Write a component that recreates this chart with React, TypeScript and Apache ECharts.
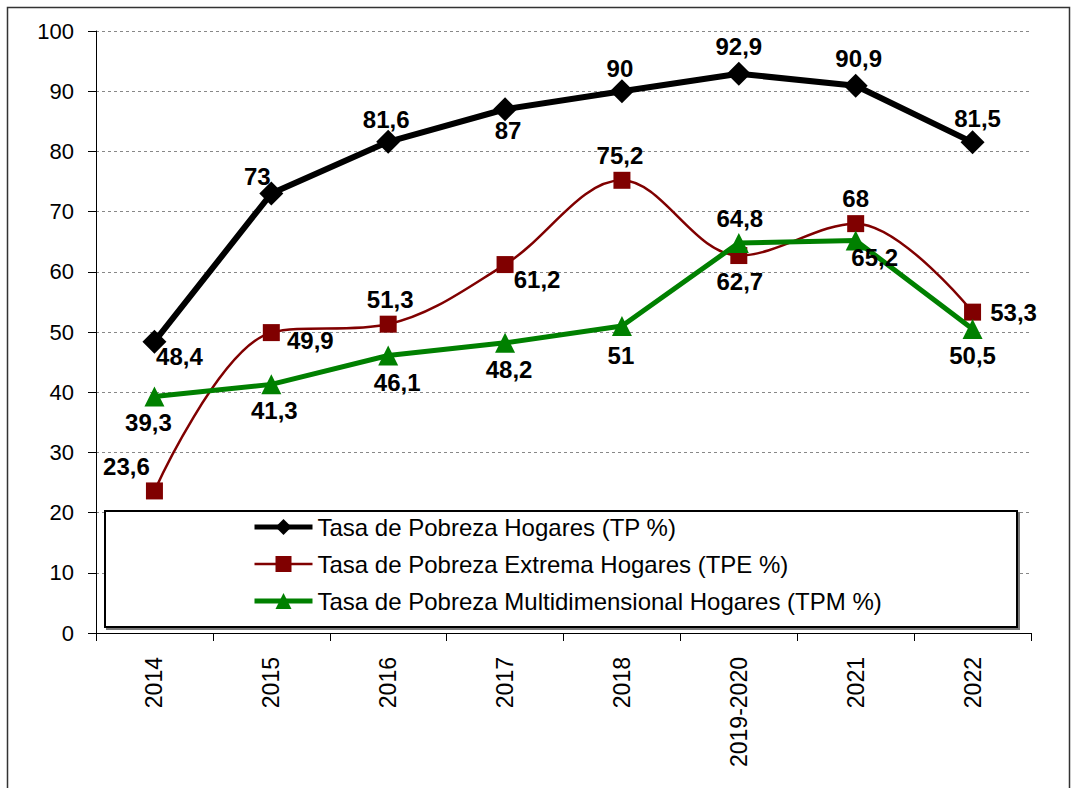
import React, { useEffect, useRef } from "react";
import * as echarts from "echarts";

const categories = ["2014", "2015", "2016", "2017", "2018", "2019-2020", "2021", "2022"];
const tpValues = [48.4, 73, 81.6, 87, 90, 92.9, 90.9, 81.5];
const tpeValues = [23.6, 49.9, 51.3, 61.2, 75.2, 62.7, 68, 53.3];
const tpmValues = [39.3, 41.3, 46.1, 48.2, 51, 64.8, 65.2, 50.5];
const seriesNames = [
  "Tasa de Pobreza Hogares (TP %)",
  "Tasa de Pobreza Extrema Hogares (TPE %)",
  "Tasa de Pobreza Multidimensional Hogares (TPM %)",
];

// label offsets (px) relative to each marker
const tpLabelOffsets = [[25, 15], [-14, -17], [-2, -22], [3, 21], [-2, -23], [0, -27], [3, -27], [5, -24]];
const tpeLabelOffsets = [[-28, -24], [39, 8], [2, -25], [32, 15], [-2, -25], [1, 26], [0, -25], [41, 0]];
const tpmLabelOffsets = [[-6, 26], [3, 26], [9, 27], [4, 27], [-1, 30], [1, -24], [19, 17], [0, 27]];

const FONT = "'Liberation Sans', Arial, Helvetica, sans-serif";

const fmt = (v: number) => String(v).replace(".", ",");

function buildData(values: number[], offsets: number[][]) {
  return values.map((v, i) => ({
    value: v,
    label: { offset: offsets[i] },
  }));
}

const labelBase = {
  show: true,
  position: "inside",
  fontFamily: FONT,
  fontSize: 24,
  fontWeight: "bold",
  color: "#000",
  formatter: (p: any) => fmt(p.value),
};

export default function App() {
  const ref = useRef<HTMLDivElement>(null);
  useEffect(() => {
    if (!ref.current) return;
    const chart = echarts.init(ref.current, undefined, { renderer: "svg" });
    chart.setOption({
      animation: false,
      backgroundColor: "#fff",
      textStyle: { fontFamily: FONT },
      grid: { left: 96, right: 41, top: 31, bottom: 155, containLabel: false },
      graphic: [
        {
          type: "rect",
          z: 0,
          shape: { x: 7.5, y: 7.5, width: 1062, height: 800 },
          style: { fill: "none", stroke: "#333", lineWidth: 1.5 },
        },
        {
          type: "rect",
          z: 50,
          shape: { x: 105, y: 511, width: 912, height: 116 },
          style: {
            fill: "#fff",
            stroke: "#000",
            lineWidth: 2,
            shadowColor: "#777",
            shadowOffsetX: 2,
            shadowOffsetY: 2,
            shadowBlur: 0,
          },
        },
      ],
      legend: {
        z: 60,
        orient: "vertical",
        left: 252,
        top: 515,
        padding: 0,
        itemGap: 13,
        itemWidth: 58,
        itemHeight: 20,
        textStyle: { fontFamily: FONT, fontSize: 24, color: "#000", lineHeight: 24 },
        data: [
          { name: seriesNames[0], lineStyle: { width: 5 } },
          { name: seriesNames[1], lineStyle: { width: 2.5 } },
          { name: seriesNames[2], lineStyle: { width: 5 } },
        ],
      },
      xAxis: {
        type: "category",
        data: categories,
        boundaryGap: true,
        axisLine: { show: true, lineStyle: { color: "#000", width: 1 } },
        axisTick: { show: true, alignWithLabel: false, length: 8, lineStyle: { color: "#000" } },
        axisLabel: {
          rotate: 90,
          fontFamily: FONT,
          fontSize: 23,
          color: "#000",
          margin: 24,
          interval: 0,
        },
        splitLine: { show: false },
      },
      yAxis: {
        type: "value",
        min: 0,
        max: 100,
        interval: 10,
        axisLine: { show: true, lineStyle: { color: "#000", width: 1 } },
        axisTick: { show: true, length: 8, lineStyle: { color: "#000" } },
        axisLabel: { fontFamily: FONT, fontSize: 22, color: "#000", margin: 22 },
        splitLine: { show: true, lineStyle: { color: "#888", type: [3, 3], width: 1 } },
      },
      series: [
        {
          name: seriesNames[0],
          type: "line",
          data: buildData(tpValues, tpLabelOffsets),
          symbol: "diamond",
          symbolSize: 24,
          lineStyle: { color: "#000", width: 6 },
          itemStyle: { color: "#000" },
          label: labelBase,
          z: 3,
        },
        {
          name: seriesNames[1],
          type: "line",
          smooth: 0.35,
          data: buildData(tpeValues, tpeLabelOffsets),
          symbol: "rect",
          symbolSize: 17,
          lineStyle: { color: "#800000", width: 2.5 },
          itemStyle: { color: "#800000" },
          label: labelBase,
          z: 4,
        },
        {
          name: seriesNames[2],
          type: "line",
          data: buildData(tpmValues, tpmLabelOffsets),
          symbol: "triangle",
          symbolSize: 20,
          lineStyle: { color: "#008000", width: 5 },
          itemStyle: { color: "#008000" },
          label: labelBase,
          z: 5,
        },
      ],
    });
    return () => chart.dispose();
  }, []);
  return (
    <div
      ref={ref}
      style={{ position: "absolute", left: 0, top: 0, width: 1072, height: 788 }}
    />
  );
}
